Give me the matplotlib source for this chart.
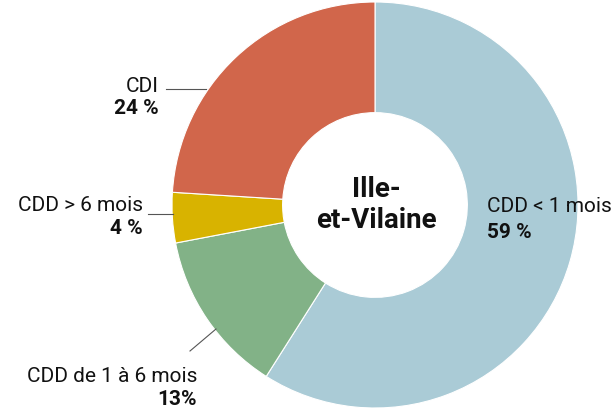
import matplotlib.pyplot as plt

categories = ["CDD < 1 mois", "CDD de 1 à 6 mois", "CDD > 6 mois", "CDI"]
shares = [59, 13, 4, 24]
share_labels = ["59 %", "13%", "4 %", "24 %"]
colors = ["#aacbd6", "#82b287", "#d8b300", "#d1664b"]
center_lines = ["Ille-", "et-Vilaine"]

W, H = 613, 409
fig = plt.figure(figsize=(W / 100, H / 100), dpi=100)
ax = fig.add_axes([0, 0, 1, 1])

def y(v):
    # pixel row (from top) -> data y
    return H - v

cx, cy, r = 375, 205, 203
ax.pie(shares, colors=colors, startangle=90, counterclock=False,
       center=(cx, y(cy)), radius=r,
       wedgeprops=dict(width=r * 0.545, edgecolor="white", linewidth=0.8))
ax.set_xlim(0, W)
ax.set_ylim(0, H)
ax.set_aspect("equal")
ax.axis("off")

font = "Roboto"
for line, base in zip(center_lines, [197, 228]):
    ax.text(cx + 1, y(base), line, ha="center", va="baseline", fontsize=20,
            fontweight="bold", family=font, color="#111111")

# label placement: x, alignment, baseline of name, baseline of value
pos = {
    "CDD < 1 mois": (487, "left", 212, 238),
    "CDD de 1 à 6 mois": (197, "right", 382, 405),
    "CDD > 6 mois": (143, "right", 211, 234),
    "CDI": (159, "right", 92, 114),
}
for cat, lab in zip(categories, share_labels):
    x0, ha, y1, y2 = pos[cat]
    ax.text(x0, y(y1), cat, ha=ha, va="baseline", fontsize=15, family=font,
            color="#111111")
    ax.text(x0, y(y2), lab, ha=ha, va="baseline", fontsize=15, family=font,
            fontweight="bold", color="#111111")

# leader lines
lc = "#555555"
ax.plot([166, 206], [y(89), y(89)], color=lc, lw=0.8)
ax.plot([148, 173], [y(214), y(214)], color=lc, lw=0.8)
ax.plot([190, 216], [y(351), y(329)], color=lc, lw=0.8)

fig.savefig("out.png", dpi=100)
